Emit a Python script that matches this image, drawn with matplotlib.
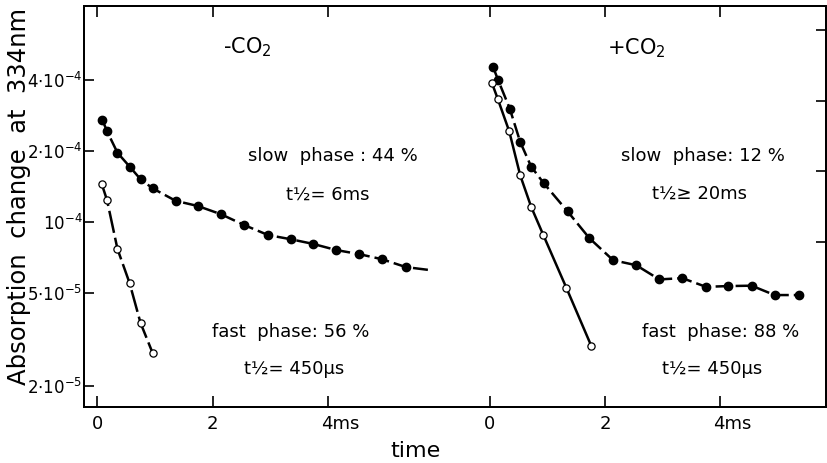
import matplotlib
matplotlib.use("Agg")
import matplotlib.pyplot as plt
import matplotlib.transforms as mtransforms

# values: time in ms, absorption change at 334 nm
slow_t = [0.09, 0.17, 0.35, 0.57, 0.75, 0.96, 1.36, 1.74, 2.14, 2.55, 2.96,
          3.35, 3.74, 4.14, 4.54, 4.93, 5.35]
minus_slow_y = [2.71e-4, 2.43e-4, 1.97e-4, 1.71e-4, 1.52e-4, 1.39e-4, 1.23e-4,
                1.17e-4, 1.08e-4, 0.97e-4, 0.88e-4, 0.845e-4, 0.807e-4,
                0.76e-4, 0.73e-4, 0.695e-4, 0.643e-4]
minus_fast_t = [0.08, 0.17, 0.35, 0.56, 0.75, 0.96]
minus_fast_y = [1.445e-4, 1.236e-4, 0.768e-4, 0.55e-4, 0.372e-4, 0.277e-4]
# dashed fit line runs a little past the last point
minus_fit_t = slow_t + [5.73]
minus_fit_y = minus_slow_y + [0.626e-4]

plus_slow_t = [0.06, 0.15, 0.35, 0.53, 0.72, 0.94, 1.35, 1.73, 2.14, 2.54, 2.94,
               3.34, 3.75, 4.14, 4.54, 4.94, 5.36]
plus_slow_y = [4.56e-4, 4.0e-4, 3.03e-4, 2.19e-4, 1.72e-4, 1.46e-4, 1.11e-4,
               0.853e-4, 0.688e-4, 0.655e-4, 0.57e-4, 0.577e-4, 0.53e-4,
               0.534e-4, 0.536e-4, 0.489e-4, 0.489e-4]
plus_fast_t = [0.04, 0.14, 0.34, 0.53, 0.72, 0.93, 1.33, 1.76]
plus_fast_y = [3.90e-4, 3.345e-4, 2.43e-4, 1.58e-4, 1.16e-4, 0.881e-4,
               0.525e-4, 0.298e-4]

yticks = [2e-5, 5e-5, 1e-4, 2e-4, 4e-4]
ytick_labels = [r"$2{\cdot}10^{-5}$", r"$5{\cdot}10^{-5}$", r"$10^{-4}$",
                r"$2{\cdot}10^{-4}$", r"$4{\cdot}10^{-4}$"]
right_ticks = [0.82e-4, 1.64e-4, 3.28e-4, 6.56e-4]
xtick_vals = [0, 2, 4]
xtick_labels = ["0", "2", "4ms"]

offset = 6.8  # where the +CO2 panel starts on the shared time axis

plt.rcParams["font.family"] = ["DejaVu Sans"]
plt.rcParams["mathtext.fontset"] = "dejavusans"

fig = plt.figure(figsize=(8.28, 4.63), dpi=100)
ax = fig.add_axes([84 / 828, 1 - 407 / 463, 742 / 828, 401 / 463])
ax.set_yscale("log")

dash = dict(color="black", lw=1.8, dashes=(6, 2))
mk_fill = dict(ls="none", marker="o", ms=6, mfc="black", mec="black")
mk_open = dict(ls="none", marker="o", ms=5.2, mfc="white", mec="black", mew=0.9)

# -CO2
ax.plot(minus_fit_t, minus_fit_y, **dash)
ax.plot(minus_fast_t, minus_fast_y, color="black", lw=1.8, dashes=(9, 2))
ax.plot(slow_t, minus_slow_y, **mk_fill)
ax.plot(minus_fast_t, minus_fast_y, **mk_open)

# +CO2
pst = [t + offset for t in plus_slow_t]
pft = [t + offset for t in plus_fast_t]
ax.plot(pst, plus_slow_y, **dash)
ax.plot(pft, plus_fast_y, color="black", lw=1.8)
ax.plot(pst, plus_slow_y, **mk_fill)
ax.plot(pft, plus_fast_y, **mk_open)

ax.set_xlim(-0.23, 12.63)
ax.set_ylim(1.634e-5, 8.29e-4)

ax.set_xticks(xtick_vals + [v + offset for v in xtick_vals])
ax.set_xticklabels(xtick_labels * 2, fontsize=13)
ax.set_yticks(yticks)
ax.set_yticklabels(ytick_labels, fontsize=12)
ax.minorticks_off()
ax.tick_params(axis="x", direction="in", length=8, width=1.2, top=True, pad=6)
ax.tick_params(axis="y", direction="in", length=7, width=1.2, pad=1)

# keep the digit of "4ms" over its tick
shift = mtransforms.ScaledTranslation(-5 / 72, 0, fig.dpi_scale_trans)
for lab in ax.get_xticklabels():
    if "ms" in lab.get_text():
        lab.set_ha("left")
        lab.set_transform(lab.get_transform() + shift)

ax2 = ax.twinx()
ax2.set_yscale("log")
ax2.set_ylim(ax.get_ylim())
ax2.set_yticks(right_ticks)
ax2.set_yticklabels([])
ax2.minorticks_off()
ax2.tick_params(axis="y", direction="in", length=7, width=1.2)

for a in (ax, ax2):
    for s in a.spines.values():
        s.set_linewidth(1.4)

ax.set_xlabel("time", fontsize=16)
ax.xaxis.set_label_coords(0.447, -0.085)
ax.set_ylabel("Absorption  change  at  334nm", fontsize=17.5)
ax.yaxis.set_label_coords(-0.071, 0.524)

fs = 13
ax.text(2.60, 5.56e-4, r"-CO$_2$", fontsize=15, ha="center", va="center")
ax.text(9.35, 5.5e-4, r"+CO$_2$", fontsize=15, ha="center", va="center")
ax.text(4.08, 1.90e-4, "slow  phase : 44 %", fontsize=fs, ha="center", va="center")
ax.text(3.99, 1.31e-4, "t½= 6ms", fontsize=fs, ha="center", va="center")
ax.text(3.35, 3.41e-5, "fast  phase: 56 %", fontsize=fs, ha="center", va="center")
ax.text(3.41, 2.375e-5, "t½= 450µs", fontsize=fs, ha="center", va="center")
ax.text(10.49, 1.905e-4, "slow  phase: 12 %", fontsize=fs, ha="center", va="center")
ax.text(10.43, 1.323e-4, "t½≥ 20ms", fontsize=fs, ha="center", va="center")
ax.text(10.80, 3.40e-5, "fast  phase: 88 %", fontsize=fs, ha="center", va="center")
ax.text(10.65, 2.375e-5, "t½= 450µs", fontsize=fs, ha="center", va="center")

fig.savefig("out.png", dpi=100)
